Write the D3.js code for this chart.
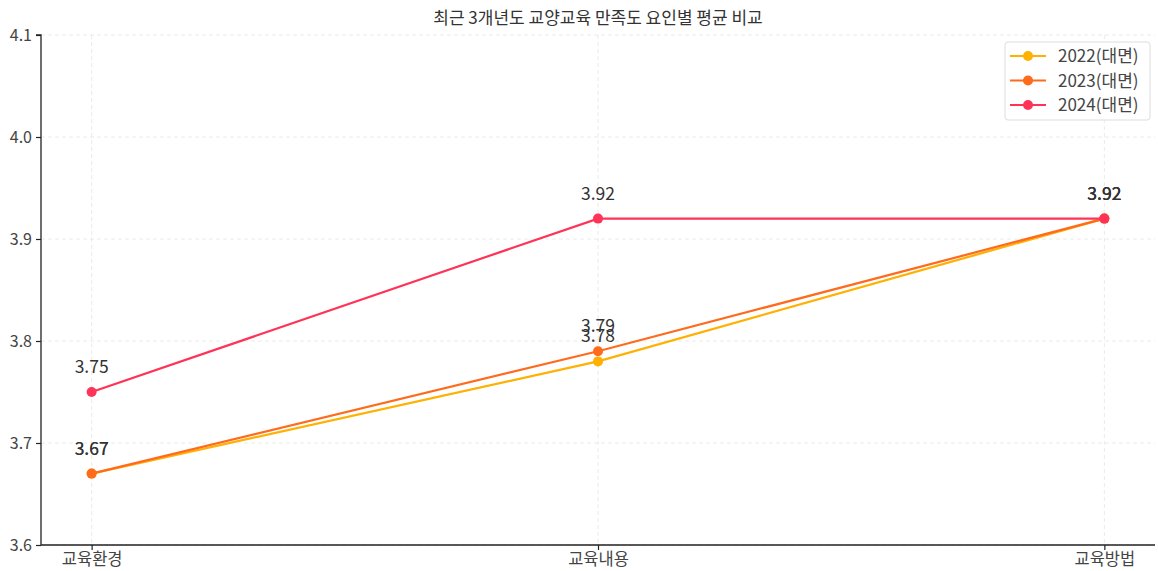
<!DOCTYPE html>
<html><head><meta charset="utf-8">
<script src="https://cdn.jsdelivr.net/npm/d3@7"></script>
<style>body{margin:0;background:#fff;}svg text{font-family:"Noto Sans CJK KR","Noto Sans",sans-serif;}</style>
</head><body><svg id="c" width="1158" height="571"></svg>
<script>
const categories = ["교육환경", "교육내용", "교육방법"];
const seriesNames = ["2022(대면)", "2023(대면)", "2024(대면)"];
const values2022 = [3.67, 3.78, 3.92];
const values2023 = [3.67, 3.79, 3.92];
const values2024 = [3.75, 3.92, 3.92];
const colors = ["#FFB000", "#FF6B1C", "#FF3358"];
const yTicks = [3.6, 3.7, 3.8, 3.9, 4.0, 4.1];
const title = "최근 3개년도 교양교육 만족도 요인별 평균 비교";

const series = [values2022, values2023, values2024].map((v, i) => ({name: seriesNames[i], values: v, color: colors[i]}));
const svg = d3.select("#c");
const L = 41, R = 1155, T = 35, B = 545;
// matplotlib-style point scale: 5% margin of data range on each side
const x = d3.scalePoint().domain(categories).range([L, R]).padding(0.1);
const y = d3.scaleLinear().domain([3.6, 4.1]).range([B, T]);

// grid
const g = svg.append("g");
g.selectAll("line.gy").data(yTicks).join("line")
  .attr("x1", L).attr("x2", R).attr("y1", d => y(d)).attr("y2", d => y(d))
  .attr("stroke", "#e4e4e4").attr("stroke-dasharray", "4,3").attr("stroke-width", 0.8);
g.selectAll("line.gx").data(categories).join("line")
  .attr("x1", d => x(d)).attr("x2", d => x(d)).attr("y1", T).attr("y2", B)
  .attr("stroke", "#e4e4e4").attr("stroke-dasharray", "4,3").attr("stroke-width", 0.8);

// axes
const yAxis = d3.axisLeft(y).tickValues(yTicks).tickFormat(d3.format(".1f")).tickSize(5).tickPadding(4);
const ya = svg.append("g").attr("transform", `translate(${L},0)`).call(yAxis);
ya.select(".domain").attr("stroke", "#222").attr("stroke-width", 1.3).attr("d", `M-5,${T}H0V${B}`);
ya.selectAll(".tick line").attr("stroke", "#222").attr("stroke-width", 1.2);
ya.selectAll(".tick text").attr("font-size", 16).attr("fill", "#444");

const xAxis = d3.axisBottom(x).tickSize(5).tickPadding(3);
const xa = svg.append("g").attr("transform", `translate(0,${B})`).call(xAxis);
xa.select(".domain").attr("stroke", "#222").attr("stroke-width", 1.3).attr("d", `M${L},0H${R}`);
xa.selectAll(".tick line").attr("stroke", "#222").attr("stroke-width", 1.2);
xa.selectAll(".tick text").attr("font-size", 16.5).attr("fill", "#444");

// lines
const line = d3.line().x((d, i) => x(categories[i])).y(d => y(d));
series.forEach(s => {
  svg.append("path").datum(s.values).attr("d", line).attr("fill", "none").attr("stroke", s.color).attr("stroke-width", 2.2);
  svg.selectAll(null).data(s.values).join("circle")
    .attr("cx", (d, i) => x(categories[i])).attr("cy", d => y(d)).attr("r", 5).attr("fill", s.color);
});
series.forEach(s => {
  svg.selectAll(null).data(s.values).join("text")
    .attr("x", (d, i) => x(categories[i])).attr("y", d => y(d) - 19)
    .attr("text-anchor", "middle").attr("font-size", 17.5).attr("fill", "#333")
    .text(d => d.toFixed(2));
});

// title
svg.append("text").attr("x", (L + R) / 2).attr("y", 24).attr("text-anchor", "middle")
  .attr("font-size", 17).attr("fill", "#333").text(title);

// legend
const lg = svg.append("g").attr("transform", "translate(1005,42)");
lg.append("rect").attr("width", 145).attr("height", 78).attr("rx", 3)
  .attr("fill", "#fff").attr("fill-opacity", 0.85).attr("stroke", "#ddd");
series.forEach((s, i) => {
  const yy = 14 + i * 24.5;
  lg.append("line").attr("x1", 5).attr("x2", 41).attr("y1", yy).attr("y2", yy).attr("stroke", s.color).attr("stroke-width", 2.2);
  lg.append("circle").attr("cx", 23).attr("cy", yy).attr("r", 5).attr("fill", s.color);
  lg.append("text").attr("x", 53).attr("y", yy + 6).attr("font-size", 17).attr("fill", "#444").text(s.name);
});
</script></body></html>
